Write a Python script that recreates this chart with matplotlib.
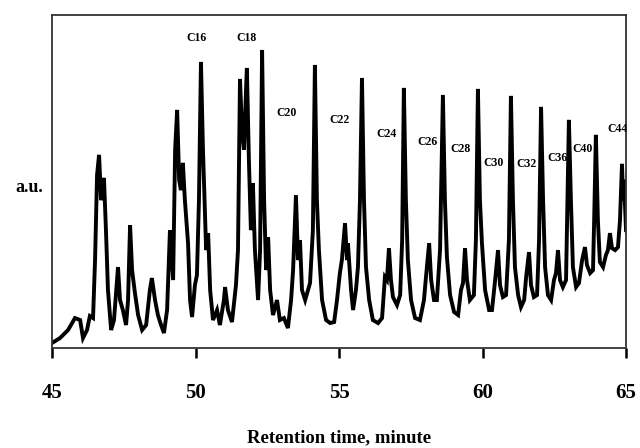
import matplotlib
matplotlib.use("Agg")
import matplotlib.pyplot as plt

# Retention time (minutes) and detector response (a.u.)
time_min = [45.00, 45.28, 45.56, 45.80, 45.98, 46.08, 46.22, 46.32, 46.43, 46.50,
            46.57, 46.64, 46.71, 46.78, 46.81, 46.88, 46.95, 47.06, 47.16, 47.30,
            47.37, 47.47, 47.58, 47.65, 47.72, 47.79, 47.89, 48.00, 48.14, 48.28,
            48.41, 48.48, 48.59, 48.69, 48.80, 48.90, 49.01, 49.11, 49.22, 49.29,
            49.36, 49.43, 49.49, 49.56, 49.63, 49.74, 49.81, 49.88, 49.98, 50.05,
            50.12, 50.19, 50.26, 50.37, 50.44, 50.51, 50.61, 50.75, 50.85, 50.99,
            51.03, 51.13, 51.27, 51.41, 51.48, 51.55, 51.62, 51.69, 51.76, 51.79,
            51.86, 51.93, 52.00, 52.07, 52.18, 52.25, 52.32, 52.39, 52.46, 52.53,
            52.60, 52.70, 52.84, 52.94, 53.08, 53.22, 53.33, 53.40, 53.50, 53.57,
            53.64, 53.71, 53.82, 53.92, 53.99, 54.09, 54.16, 54.23, 54.30, 54.41,
            54.55, 54.69, 54.83, 54.93, 55.03, 55.10, 55.21, 55.28, 55.31, 55.42,
            55.49, 55.59, 55.66, 55.73, 55.80, 55.87, 55.94, 56.05, 56.18, 56.36,
            56.50, 56.60, 56.67, 56.74, 56.81, 56.88, 57.02, 57.13, 57.20, 57.26,
            57.33, 57.40, 57.51, 57.65, 57.82, 57.96, 58.03, 58.14, 58.21, 58.31,
            58.41, 58.52, 58.62, 58.69, 58.76, 58.87, 59.01, 59.15, 59.25, 59.32,
            59.39, 59.46, 59.56, 59.70, 59.77, 59.84, 59.91, 59.98, 60.09, 60.23,
            60.33, 60.44, 60.54, 60.61, 60.71, 60.82, 60.92, 60.99, 61.06, 61.13,
            61.24, 61.34, 61.45, 61.52, 61.62, 61.69, 61.79, 61.90, 61.97, 62.04,
            62.11, 62.18, 62.28, 62.39, 62.49, 62.56, 62.63, 62.70, 62.80, 62.91,
            62.94, 63.01, 63.08, 63.15, 63.26, 63.36, 63.47, 63.57, 63.64, 63.75,
            63.85, 63.89, 63.95, 64.02, 64.09, 64.20, 64.30, 64.37, 64.44, 64.51,
            64.62, 64.72, 64.79, 64.86, 64.90, 64.93, 65.00]

intensity = [1.5, 3.0, 5.4, 9.0, 8.4, 3.0, 5.4, 9.6, 9.0, 26.4,
             52.0, 58.0, 44.4, 47.4, 51.1, 35.4, 17.4, 5.4, 8.4, 24.3,
             14.4, 11.4, 6.9, 14.4, 36.9, 23.4, 16.5, 9.9, 5.4, 6.9,
             17.4, 21.0, 14.4, 9.9, 6.9, 4.5, 11.4, 35.4, 20.4, 59.5,
             71.5, 50.5, 47.4, 55.6, 44.4, 31.5, 14.4, 9.3, 18.9, 21.9,
             44.4, 85.9, 59.5, 29.4, 34.5, 17.4, 8.4, 11.4, 6.9, 14.4,
             18.3, 11.4, 7.8, 18.9, 29.4, 80.8, 65.5, 59.5, 77.5, 84.1,
             56.5, 35.4, 49.5, 29.4, 14.4, 29.4, 89.5, 44.4, 23.4, 33.3,
             17.4, 9.9, 14.4, 8.4, 9.0, 6.0, 14.4, 23.4, 45.9, 26.4,
             32.4, 17.4, 14.4, 17.4, 19.5, 35.4, 85.0, 44.4, 29.4, 14.4,
             8.4, 7.5, 7.8, 14.4, 22.5, 26.4, 37.5, 26.4, 31.5, 17.4,
             11.4, 17.4, 24.3, 44.4, 81.1, 44.4, 24.3, 14.4, 8.4, 7.5,
             9.0, 21.3, 20.4, 30.0, 20.4, 15.3, 12.9, 15.9, 32.4, 78.1,
             44.4, 26.4, 14.4, 9.0, 8.4, 14.4, 21.3, 31.5, 20.4, 14.4,
             14.4, 29.4, 76.0, 44.4, 27.3, 15.9, 10.8, 9.9, 17.4, 19.5,
             30.0, 20.4, 14.4, 15.9, 32.4, 77.8, 44.4, 31.5, 17.4, 11.4,
             11.4, 20.4, 29.4, 18.9, 15.3, 15.9, 32.4, 75.7, 44.4, 24.3,
             15.9, 12.3, 14.4, 21.3, 28.8, 18.9, 15.3, 15.9, 32.4, 72.4,
             44.4, 24.3, 15.9, 14.4, 20.4, 22.5, 29.4, 20.4, 18.3, 20.4,
             35.4, 68.5, 44.4, 24.3, 18.3, 19.5, 26.4, 30.3, 24.9, 22.5,
             23.4, 38.4, 64.0, 38.4, 25.8, 24.3, 27.9, 29.4, 34.5, 30.0,
             29.4, 30.3, 38.4, 55.3, 44.4, 50.5, 35.4]

# Peak labels (n-alkane carbon numbers) and their positions
peak_labels = ["C16", "C18", "C20", "C22", "C24", "C26", "C28", "C30",
               "C32", "C36", "C40", "C44"]
label_time = [50.05, 51.76, 53.19, 55.03, 56.67, 58.10, 59.22, 60.37,
              61.55, 62.60, 63.50, 64.69]
label_int = [93.1, 93.1, 70.6, 68.5, 64.3, 61.9, 59.8, 55.6,
             55.3, 57.1, 59.8, 65.8]

x_ticks = [45, 50, 55, 60, 65]

serif = ["Liberation Serif", "DejaVu Serif"]

fig = plt.figure(figsize=(6.4, 4.48), dpi=100)
ax = fig.add_axes([0.08125, 0.2232, 0.8969, 0.7433])

ax.plot(time_min, intensity, color="black", lw=2.8, solid_joinstyle="miter")

for lab, t, v in zip(peak_labels, label_time, label_int):
    ax.text(t, v, lab, ha="center", va="center", fontsize=8.5,
            fontweight="bold", family=serif, clip_on=False)

ax.set_xlim(45, 65)
ax.set_ylim(0, 100)
ax.set_xticks(x_ticks)
ax.set_xticklabels([str(v) for v in x_ticks], fontsize=15, fontweight="bold",
                   family=serif)
ax.set_yticks([])
ax.tick_params(axis="x", direction="out", length=7, width=1.8, pad=18)
for sp in ax.spines.values():
    sp.set_linewidth(1.3)
    sp.set_color("#333333")

ax.set_xlabel("Retention time, minute", fontsize=13.5, fontweight="bold",
              family=serif, labelpad=19)
ax.text(-0.015, 0.483, "a.u.", transform=ax.transAxes, ha="right",
        va="center", fontsize=13, fontweight="bold", family=serif)

fig.savefig("out.png", dpi=100)
